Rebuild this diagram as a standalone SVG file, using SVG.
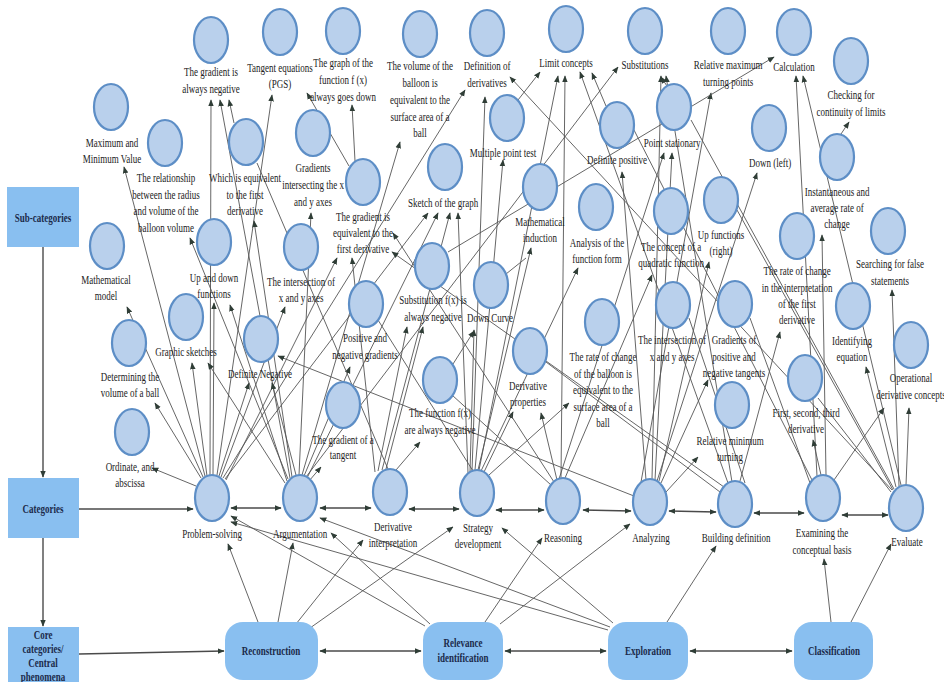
<svg xmlns="http://www.w3.org/2000/svg" width="944" height="682" viewBox="0 0 944 682">
<defs>
<style>
.c{fill:#b9d0ec;stroke:#5d8ec6;stroke-width:2.2}
.t{font-family:"Liberation Serif","Times New Roman",serif;font-size:12.5px;fill:#222;text-anchor:middle;transform-box:fill-box;transform-origin:center;transform:scaleX(0.72)}
.b{font-family:"Liberation Serif","Times New Roman",serif;font-size:12.5px;font-weight:bold;fill:#1b2a4a;text-anchor:middle;transform-box:fill-box;transform-origin:center;transform:scaleX(0.72)}
.box{fill:#89bff0}
.e{stroke:#555;stroke-width:0.9;fill:none}
.ea{stroke:#555;stroke-width:0.9;fill:none;marker-end:url(#a)}
.f{stroke:#4a4a4a;stroke-width:1.4;fill:none;marker-end:url(#a)}
.d{stroke:#4a4a4a;stroke-width:1.4;fill:none;marker-end:url(#a);marker-start:url(#a)}
</style>
<marker id="a" viewBox="0 0 10 10" refX="9" refY="5" markerWidth="7" markerHeight="7" markerUnits="userSpaceOnUse" orient="auto-start-reverse"><path d="M0,1 L10,5 L0,9 z" fill="#2f3d36"/></marker>
</defs>
<rect width="944" height="682" fill="#fff"/>

<g id="connectors">
<!-- left flow -->
<line class="f" x1="43" y1="247" x2="43" y2="477"/>
<line class="f" x1="43" y1="538" x2="43" y2="626"/>
<line class="f" x1="79" y1="509" x2="193" y2="509"/>
<line class="f" x1="79" y1="654" x2="224" y2="651"/>
<!-- core row -->
<line class="d" x1="320" y1="651" x2="421" y2="651"/>
<line class="d" x1="505" y1="651" x2="606" y2="651"/>
<line class="d" x1="690" y1="651" x2="792" y2="651"/>
<!-- category row -->
<line class="d" x1="231" y1="508" x2="281" y2="508"/>
<line class="d" x1="320" y1="508" x2="371" y2="508"/>
<line class="d" x1="409" y1="509" x2="459" y2="509"/>
<line class="d" x1="496" y1="510" x2="544" y2="510"/>
<line class="d" x1="583" y1="510" x2="631" y2="511"/>
<line class="d" x1="669" y1="511" x2="716" y2="512"/>
<line class="d" x1="754" y1="513" x2="804" y2="513"/>
<line class="d" x1="842" y1="515" x2="888" y2="515"/>
<!-- core to categories -->
<line class="ea" x1="258" y1="622" x2="228" y2="544"/>
<line class="ea" x1="278" y1="622" x2="293" y2="543"/>
<line class="ea" x1="296" y1="624" x2="363" y2="540"/>
<line class="ea" x1="310" y1="628" x2="453" y2="527"/>
<line class="ea" x1="425" y1="626" x2="231" y2="516"/>
<line class="ea" x1="430" y1="624" x2="331" y2="533"/>
<line class="ea" x1="485" y1="622" x2="542" y2="538"/>
<line class="ea" x1="500" y1="624" x2="630" y2="524"/>
<line class="ea" x1="608" y1="630" x2="231" y2="522"/>
<line class="ea" x1="610" y1="627" x2="320" y2="518"/>
<line class="ea" x1="613" y1="623" x2="502" y2="528"/>
<line class="ea" x1="667" y1="622" x2="716" y2="546"/>
<line class="ea" x1="831" y1="622" x2="824" y2="559"/>
<line class="ea" x1="851" y1="622" x2="891" y2="544"/>
<!-- Problem-solving -->
<line class="ea" x1="196" y1="486" x2="152" y2="468"/>
<line class="ea" x1="201" y1="478" x2="155" y2="403"/>
<line class="ea" x1="203" y1="477" x2="127" y2="307"/>
<line class="ea" x1="205" y1="476" x2="124" y2="167"/>
<line class="ea" x1="207" y1="476" x2="192" y2="363"/>
<line class="ea" x1="210" y1="475" x2="211" y2="100"/>
<line class="ea" x1="213" y1="475" x2="214" y2="303"/>
<line class="ea" x1="217" y1="475" x2="272" y2="95"/>
<line class="ea" x1="219" y1="476" x2="249" y2="383"/>
<line class="ea" x1="221" y1="477" x2="285" y2="307"/>
<line class="ea" x1="223" y1="478" x2="465" y2="90"/>
<line class="ea" x1="225" y1="479" x2="428" y2="213"/>
<line class="ea" x1="226" y1="480" x2="337" y2="258"/>
<!-- Argumentation -->
<line class="ea" x1="290" y1="478" x2="220" y2="100"/>
<line class="ea" x1="292" y1="477" x2="254" y2="221"/>
<line class="ea" x1="287" y1="481" x2="230" y2="305"/>
<line class="ea" x1="285" y1="483" x2="208" y2="363"/>
<line class="ea" x1="288" y1="479" x2="190" y2="238"/>
<line class="ea" x1="296" y1="475" x2="272" y2="383"/>
<line class="ea" x1="299" y1="475" x2="311" y2="213"/>
<line class="ea" x1="302" y1="475" x2="400" y2="142"/>
<line class="ea" x1="304" y1="476" x2="350" y2="367"/>
<line class="ea" x1="306" y1="477" x2="618" y2="67"/>
<line class="ea" x1="307" y1="478" x2="438" y2="213"/>
<line class="ea" x1="309" y1="481" x2="321" y2="467"/>
<!-- Derivative interpretation -->
<line class="ea" x1="378" y1="471" x2="407" y2="327"/>
<line class="ea" x1="386" y1="469" x2="423" y2="327"/>
<line class="ea" x1="396" y1="470" x2="420" y2="442"/>
<line class="ea" x1="382" y1="470" x2="450" y2="213"/>
<line class="ea" x1="375" y1="472" x2="352" y2="258"/>
<line class="e" x1="388" y1="469" x2="257" y2="163"/>
<!-- Strategy development -->
<line class="ea" x1="468" y1="473" x2="458" y2="213"/>
<line class="ea" x1="472" y1="471" x2="485" y2="97"/>
<line class="ea" x1="475" y1="470" x2="503" y2="160"/>
<line class="ea" x1="478" y1="470" x2="531" y2="248"/>
<line class="ea" x1="481" y1="471" x2="578" y2="268"/>
<line class="ea" x1="484" y1="472" x2="513" y2="412"/>
<line class="ea" x1="489" y1="475" x2="569" y2="403"/>
<line class="ea" x1="470" y1="472" x2="474" y2="330"/>
<line class="ea" x1="479" y1="470" x2="558" y2="76"/>
<line class="e" x1="473" y1="471" x2="378" y2="320"/>
<!-- Reasoning -->
<line class="ea" x1="557" y1="480" x2="541" y2="413"/>
<line class="ea" x1="561" y1="478" x2="565" y2="76"/>
<line class="ea" x1="565" y1="478" x2="652" y2="275"/>
<line class="ea" x1="559" y1="479" x2="664" y2="153"/>
<line class="ea" x1="554" y1="482" x2="393" y2="233"/>
<line class="e" x1="551" y1="485" x2="452" y2="395"/>
<!-- Analyzing -->
<line class="ea" x1="666" y1="492" x2="698" y2="457"/>
<line class="ea" x1="655" y1="480" x2="672" y2="153"/>
<line class="ea" x1="659" y1="481" x2="709" y2="262"/>
<line class="ea" x1="661" y1="483" x2="708" y2="380"/>
<line class="ea" x1="646" y1="480" x2="622" y2="172"/>
<line class="ea" x1="641" y1="482" x2="711" y2="93"/>
<line class="ea" x1="657" y1="481" x2="757" y2="173"/>
<line class="ea" x1="652" y1="479" x2="661" y2="76"/>
<line class="ea" x1="634" y1="496" x2="278" y2="356"/>
<!-- Building definition -->
<line class="ea" x1="728" y1="483" x2="580" y2="72"/>
<line class="ea" x1="724" y1="487" x2="392" y2="252"/>
<line class="ea" x1="740" y1="481" x2="780" y2="332"/>
<line class="e" x1="745" y1="483" x2="689" y2="318"/>
<line class="e" x1="720" y1="492" x2="546" y2="362"/>
<line class="ea" x1="732" y1="482" x2="666" y2="76"/>
<!-- Examining -->
<line class="ea" x1="817" y1="476" x2="796" y2="76"/>
<line class="ea" x1="826" y1="475" x2="822" y2="235"/>
<line class="ea" x1="821" y1="475" x2="813" y2="440"/>
<line class="ea" x1="834" y1="480" x2="884" y2="408"/>
<line class="e" x1="812" y1="480" x2="634" y2="130"/>
<line class="e" x1="810" y1="483" x2="750" y2="318"/>
<!-- Evaluate -->
<line class="ea" x1="906" y1="485" x2="909" y2="408"/>
<line class="ea" x1="899" y1="486" x2="892" y2="290"/>
<line class="ea" x1="896" y1="487" x2="866" y2="367"/>
<line class="ea" x1="901" y1="485" x2="803" y2="76"/>
<line class="ea" x1="892" y1="490" x2="510" y2="77"/>
<line class="e" x1="894" y1="489" x2="691" y2="120"/>
<line class="e" x1="893" y1="490" x2="737" y2="210"/>
<line class="e" x1="891" y1="492" x2="818" y2="398"/>
<!-- sub to sub -->
<line class="ea" x1="234" y1="123" x2="229" y2="100"/>
<line class="ea" x1="355" y1="161" x2="352" y2="105"/>
<line class="ea" x1="349" y1="166" x2="307" y2="93"/>
<line class="ea" x1="518" y1="100" x2="540" y2="72"/>
<line class="ea" x1="606" y1="106" x2="592" y2="73"/>
<line class="ea" x1="667" y1="86" x2="661" y2="77"/>
<line class="ea" x1="841" y1="134" x2="849" y2="122"/>
<line class="ea" x1="448" y1="252" x2="774" y2="57"/>
<line class="ea" x1="453" y1="364" x2="474" y2="331"/>
<line class="e" x1="506" y1="274" x2="526" y2="258"/>
</g>

<g id="sub-categories-box"><rect class="box" x="7" y="187" width="72" height="60"/><text class="b" x="43" y="222">Sub-categories</text></g>
<g id="categories-box"><rect class="box" x="8" y="478" width="71" height="60"/><text class="b" x="43" y="513">Categories</text></g>
<g id="core-box"><rect class="box" x="8" y="627" width="71" height="60"/><text class="b"><tspan x="43" y="639">Core</tspan><tspan x="43" y="653">categories/</tspan><tspan x="43" y="667">Central</tspan><tspan x="43" y="681">phenomena</tspan></text></g>

<g id="reconstruction"><rect class="box" x="225" y="622" width="93" height="58" rx="18"/><text class="b" x="271" y="655">Reconstruction</text></g>
<g id="relevance"><rect class="box" x="423" y="622" width="80" height="58" rx="18"/><text class="b"><tspan x="463" y="647">Relevance</tspan><tspan x="463" y="662">identification</tspan></text></g>
<g id="exploration"><rect class="box" x="608" y="622" width="80" height="58" rx="18"/><text class="b" x="648" y="655">Exploration</text></g>
<g id="classification"><rect class="box" x="794" y="622" width="79" height="58" rx="18"/><text class="b" x="834" y="655">Classification</text></g>

<g id="problem-solving"><ellipse class="c" cx="212" cy="498" rx="17" ry="23"/><text class="t" x="212" y="538">Problem-solving</text></g>
<g id="argumentation"><ellipse class="c" cx="300" cy="498" rx="17" ry="23"/><text class="t" x="300" y="538">Argumentation</text></g>
<g id="derivative-interpretation"><ellipse class="c" cx="390" cy="492" rx="17" ry="23"/><text class="t"><tspan x="393" y="531">Derivative</tspan><tspan x="393" y="547">interpretation</tspan></text></g>
<g id="strategy-development"><ellipse class="c" cx="477" cy="493" rx="17" ry="23"/><text class="t"><tspan x="478" y="532">Strategy</tspan><tspan x="478" y="548">development</tspan></text></g>
<g id="reasoning"><ellipse class="c" cx="563" cy="501" rx="17" ry="23"/><text class="t" x="563" y="542">Reasoning</text></g>
<g id="analyzing"><ellipse class="c" cx="650" cy="502" rx="17" ry="23"/><text class="t" x="651" y="542">Analyzing</text></g>
<g id="building-definition"><ellipse class="c" cx="735" cy="504" rx="17" ry="23"/><text class="t" x="736" y="542">Building definition</text></g>
<g id="examining"><ellipse class="c" cx="823" cy="498" rx="17" ry="23"/><text class="t"><tspan x="822" y="537">Examining the</tspan><tspan x="822" y="554">conceptual basis</tspan></text></g>
<g id="evaluate"><ellipse class="c" cx="906" cy="508" rx="17" ry="23"/><text class="t" x="907" y="546">Evaluate</text></g>

<g id="n1"><ellipse class="c" cx="211" cy="40" rx="17" ry="23"/><text class="t"><tspan x="211" y="76">The gradient is</tspan><tspan x="211" y="93">always negative</tspan></text></g>
<g id="n2"><ellipse class="c" cx="280" cy="32" rx="17" ry="23"/><text class="t"><tspan x="280" y="72">Tangent equations</tspan><tspan x="280" y="88">(PGS)</tspan></text></g>
<g id="n3"><ellipse class="c" cx="343" cy="31" rx="17" ry="23"/><text class="t"><tspan x="343" y="67">The graph of the</tspan><tspan x="343" y="84">function f (x)</tspan><tspan x="343" y="101">always goes down</tspan></text></g>
<g id="n4"><ellipse class="c" cx="420" cy="34" rx="17" ry="23"/><text class="t"><tspan x="420" y="70">The volume of the</tspan><tspan x="420" y="87">balloon is</tspan><tspan x="420" y="104">equivalent to the</tspan><tspan x="420" y="121">surface area of a</tspan><tspan x="420" y="137">ball</tspan></text></g>
<g id="n5"><ellipse class="c" cx="487" cy="33" rx="17" ry="23"/><text class="t"><tspan x="487" y="70">Definition of</tspan><tspan x="487" y="87">derivatives</tspan></text></g>
<g id="n6"><ellipse class="c" cx="566" cy="29" rx="17" ry="23"/><text class="t" x="566" y="67">Limit concepts</text></g>
<g id="n7"><ellipse class="c" cx="645" cy="31" rx="17" ry="23"/><text class="t" x="645" y="69">Substitutions</text></g>
<g id="n8"><ellipse class="c" cx="728" cy="31" rx="17" ry="23"/><text class="t"><tspan x="728" y="69">Relative maximum</tspan><tspan x="728" y="86">turning points</tspan></text></g>
<g id="n9"><ellipse class="c" cx="794" cy="32" rx="17" ry="23"/><text class="t" x="794" y="71">Calculation</text></g>
<g id="n10"><ellipse class="c" cx="851" cy="61" rx="17" ry="23"/><text class="t"><tspan x="851" y="99">Checking for</tspan><tspan x="851" y="116">continuity of limits</tspan></text></g>
<g id="n11"><ellipse class="c" cx="111" cy="107" rx="17" ry="23"/><text class="t"><tspan x="112" y="147">Maximum and</tspan><tspan x="112" y="163">Minimum Value</tspan></text></g>
<g id="n12"><ellipse class="c" cx="165" cy="143" rx="17" ry="23"/><text class="t"><tspan x="166" y="182">The relationship</tspan><tspan x="166" y="199">between the radius</tspan><tspan x="166" y="215">and volume of the</tspan><tspan x="166" y="232">balloon volume</tspan></text></g>
<g id="n13"><ellipse class="c" cx="246" cy="142" rx="17" ry="23"/><text class="t"><tspan x="245" y="182">Which is equivalent</tspan><tspan x="245" y="199">to the first</tspan><tspan x="245" y="215">derivative</tspan></text></g>
<g id="n14"><ellipse class="c" cx="313" cy="133" rx="17" ry="23"/><text class="t"><tspan x="313" y="172">Gradients</tspan><tspan x="313" y="189">intersecting the x</tspan><tspan x="313" y="206">and y axes</tspan></text></g>
<g id="n15"><ellipse class="c" cx="363" cy="182" rx="17" ry="23"/><text class="t"><tspan x="363" y="221">The gradient is</tspan><tspan x="363" y="237">equivalent to the</tspan><tspan x="363" y="253">first derivative</tspan></text></g>
<g id="n16"><ellipse class="c" cx="445" cy="167" rx="17" ry="23"/><text class="t" x="443" y="207">Sketch of the graph</text></g>
<g id="n17"><ellipse class="c" cx="507" cy="118" rx="17" ry="23"/><text class="t" x="503" y="157">Multiple point test</text></g>
<g id="n18"><ellipse class="c" cx="540" cy="187" rx="17" ry="23"/><text class="t"><tspan x="540" y="226">Mathematical</tspan><tspan x="540" y="242">induction</tspan></text></g>
<g id="n19"><ellipse class="c" cx="617" cy="125" rx="17" ry="23"/><text class="t" x="617" y="164">Definite positive</text></g>
<g id="n20"><ellipse class="c" cx="674" cy="107" rx="17" ry="23"/><text class="t" x="672" y="147">Point stationary</text></g>
<g id="n21"><ellipse class="c" cx="769" cy="128" rx="17" ry="23"/><text class="t" x="770" y="167">Down (left)</text></g>
<g id="n22"><ellipse class="c" cx="837" cy="157" rx="17" ry="23"/><text class="t"><tspan x="837" y="196">Instantaneous and</tspan><tspan x="837" y="212">average rate of</tspan><tspan x="837" y="228">change</tspan></text></g>
<g id="n23"><ellipse class="c" cx="888" cy="231" rx="17" ry="23"/><text class="t"><tspan x="890" y="268">Searching for false</tspan><tspan x="890" y="285">statements</tspan></text></g>
<g id="n24"><ellipse class="c" cx="721" cy="200" rx="17" ry="23"/><text class="t"><tspan x="721" y="239">Up functions</tspan><tspan x="721" y="255">(right)</tspan></text></g>
<g id="n25"><ellipse class="c" cx="671" cy="211" rx="17" ry="23"/><text class="t"><tspan x="671" y="251">The concept of a</tspan><tspan x="671" y="267">quadratic function</tspan></text></g>
<g id="n26"><ellipse class="c" cx="596" cy="207" rx="17" ry="23"/><text class="t"><tspan x="597" y="247">Analysis of the</tspan><tspan x="597" y="263">function form</tspan></text></g>
<g id="n27"><ellipse class="c" cx="491" cy="285" rx="17" ry="23"/><text class="t" x="490" y="322">Down Curve</text></g>
<g id="n28"><ellipse class="c" cx="432" cy="266" rx="17" ry="23"/><text class="t"><tspan x="433" y="304">Substitution f(x) is</tspan><tspan x="433" y="321">always negative</tspan></text></g>
<g id="n29"><ellipse class="c" cx="366" cy="304" rx="17" ry="23"/><text class="t"><tspan x="365" y="342">Positive and</tspan><tspan x="365" y="359">negative gradients</tspan></text></g>
<g id="n30"><ellipse class="c" cx="301" cy="247" rx="17" ry="23"/><text class="t"><tspan x="301" y="286">The intersection of</tspan><tspan x="301" y="302">x and y axes</tspan></text></g>
<g id="n31"><ellipse class="c" cx="214" cy="242" rx="17" ry="23"/><text class="t"><tspan x="214" y="282">Up and down</tspan><tspan x="214" y="298">functions</tspan></text></g>
<g id="n32"><ellipse class="c" cx="107" cy="246" rx="17" ry="23"/><text class="t"><tspan x="106" y="284">Mathematical</tspan><tspan x="106" y="300">model</tspan></text></g>
<g id="n33"><ellipse class="c" cx="186" cy="317" rx="17" ry="23"/><text class="t" x="186" y="356">Graphic sketches</text></g>
<g id="n34"><ellipse class="c" cx="129" cy="343" rx="17" ry="23"/><text class="t"><tspan x="130" y="381">Determining the</tspan><tspan x="130" y="397">volume of a ball</tspan></text></g>
<g id="n35"><ellipse class="c" cx="261" cy="339" rx="17" ry="23"/><text class="t" x="260" y="378">Definite Negative</text></g>
<g id="n36"><ellipse class="c" cx="132" cy="432" rx="17" ry="23"/><text class="t"><tspan x="130" y="471">Ordinate, and</tspan><tspan x="130" y="487">abscissa</tspan></text></g>
<g id="n37"><ellipse class="c" cx="343" cy="405" rx="17" ry="23"/><text class="t"><tspan x="343" y="444">The gradient of a</tspan><tspan x="343" y="459">tangent</tspan></text></g>
<g id="n38"><ellipse class="c" cx="440" cy="380" rx="17" ry="23"/><text class="t"><tspan x="440" y="417">The function f(x)</tspan><tspan x="440" y="434">are always negative</tspan></text></g>
<g id="n39"><ellipse class="c" cx="530" cy="351" rx="17" ry="23"/><text class="t"><tspan x="528" y="390">Derivative</tspan><tspan x="528" y="406">properties</tspan></text></g>
<g id="n40"><ellipse class="c" cx="602" cy="322" rx="17" ry="23"/><text class="t"><tspan x="603" y="361">The rate of change</tspan><tspan x="603" y="378">of the balloon is</tspan><tspan x="603" y="394">equivalent to the</tspan><tspan x="603" y="411">surface area of a</tspan><tspan x="603" y="427">ball</tspan></text></g>
<g id="n41"><ellipse class="c" cx="673" cy="305" rx="17" ry="23"/><text class="t"><tspan x="672" y="344">The intersection of</tspan><tspan x="672" y="361">x and y axes</tspan></text></g>
<g id="n42"><ellipse class="c" cx="735" cy="304" rx="17" ry="23"/><text class="t"><tspan x="734" y="344">Gradients of</tspan><tspan x="734" y="361">positive and</tspan><tspan x="734" y="377">negative tangents</tspan></text></g>
<g id="n43"><ellipse class="c" cx="797" cy="236" rx="17" ry="23"/><text class="t"><tspan x="797" y="275">The rate of change</tspan><tspan x="797" y="292">in the interpretation</tspan><tspan x="797" y="308">of the first</tspan><tspan x="797" y="324">derivative</tspan></text></g>
<g id="n44"><ellipse class="c" cx="853" cy="306" rx="17" ry="23"/><text class="t"><tspan x="852" y="345">Identifying</tspan><tspan x="852" y="361">equation</tspan></text></g>
<g id="n45"><ellipse class="c" cx="911" cy="345" rx="17" ry="23"/><text class="t"><tspan x="911" y="382">Operational</tspan><tspan x="911" y="399">derivative concepts</tspan></text></g>
<g id="n46"><ellipse class="c" cx="805" cy="378" rx="17" ry="23"/><text class="t"><tspan x="806" y="417">First, second, third</tspan><tspan x="806" y="433">derivative</tspan></text></g>
<g id="n47"><ellipse class="c" cx="732" cy="405" rx="17" ry="23"/><text class="t"><tspan x="730" y="445">Relative minimum</tspan><tspan x="730" y="461">turning</tspan></text></g>
</svg>
